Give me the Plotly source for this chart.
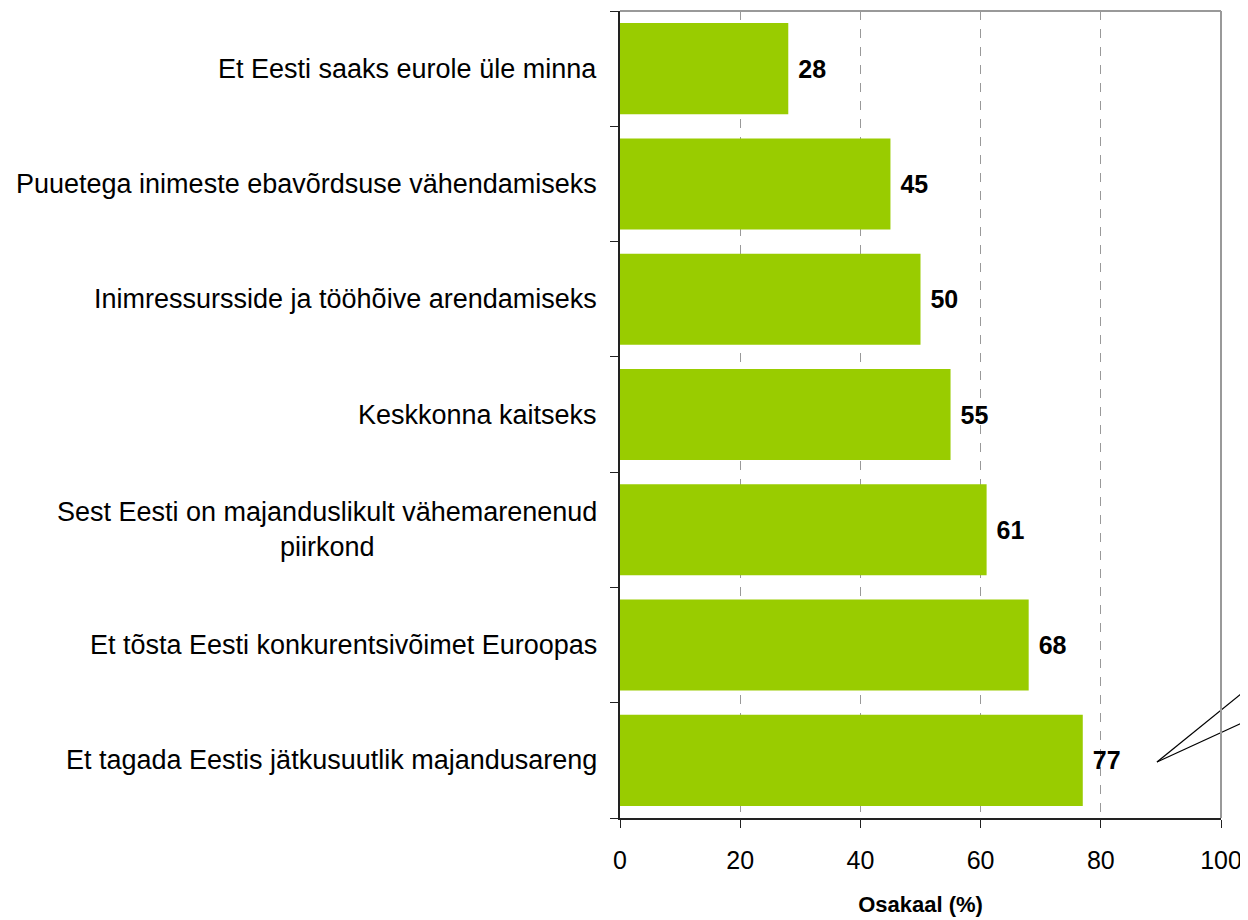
import plotly.graph_objects as go

categories = [
    "Et tagada Eestis jätkusuutlik majandusareng",
    "Et tõsta Eesti konkurentsivõimet Euroopas",
    "Sest Eesti on majanduslikult vähemarenenud<br>piirkond",
    "Keskkonna kaitseks",
    "Inimressursside ja tööhõive arendamiseks",
    "Puuetega inimeste ebavõrdsuse vähendamiseks",
    "Et Eesti saaks eurole üle minna",
]
values = [77, 68, 61, 55, 50, 45, 28]
x_ticks = [0, 20, 40, 60, 80, 100]

FONT = "Liberation Sans, Arial, sans-serif"

fig = go.Figure()
fig.add_trace(go.Bar(
    x=values, y=categories, orientation="h",
    marker=dict(color="#99CC00", line=dict(width=0)),
    width=0.79,
    texttemplate=" %{x}",
    textposition="outside",
    textfont=dict(family=FONT, size=25, color="black", weight="bold"),
    cliponaxis=False,
))

# category labels as centered multi-line annotations
for cat in categories:
    fig.add_annotation(
        x=0, xref="paper", y=cat, yref="y",
        text=cat, showarrow=False,
        xanchor="right", yanchor="middle", align="center",
        xshift=-21,
        font=dict(family=FONT, size=27, color="black"),
    )

# callout pointer lines (extend beyond the visible area)
fig.add_shape(type="line", xref="paper", yref="paper",
              x0=0.8935, y0=0.0694, x1=1.1, y1=0.194,
              line=dict(color="black", width=1.3), layer="above")
fig.add_shape(type="line", xref="paper", yref="paper",
              x0=0.8935, y0=0.0694, x1=1.1, y1=0.140,
              line=dict(color="black", width=1.3), layer="above")

fig.update_layout(
    width=1240, height=912,
    margin=dict(l=612, r=27, t=3, b=102),
    plot_bgcolor="white", paper_bgcolor="white",
    showlegend=False,
    font=dict(family=FONT, size=20, color="black"),
    xaxis=dict(
        range=[0, 100], tickvals=x_ticks,
        showgrid=True, gridcolor="#999999", griddash="dash", gridwidth=1,
        showline=True, linecolor="#222222", linewidth=1.5,
        ticks="outside", ticklen=8, tickcolor="#222222",
        tickfont=dict(size=25), ticklabelstandoff=11,
        mirror=False, zeroline=False,
        title=dict(text="<b>Osakaal (%)</b>", font=dict(size=22), standoff=24),
    ),
    yaxis=dict(
        showline=True, linecolor="#222222", linewidth=1.5,
        ticks="outside", ticklen=8, tickcolor="#222222",
        tickson="boundaries", showticklabels=False,
        showgrid=False, zeroline=False,
    ),
)
# top and right gray frame
fig.add_shape(type="line", xref="paper", yref="paper", x0=0, y0=1, x1=1, y1=1,
              line=dict(color="#999999", width=2), layer="above")
fig.add_shape(type="line", xref="paper", yref="paper", x0=1, y0=0, x1=1, y1=1,
              line=dict(color="#999999", width=2), layer="above")

fig.write_html("out.html")
